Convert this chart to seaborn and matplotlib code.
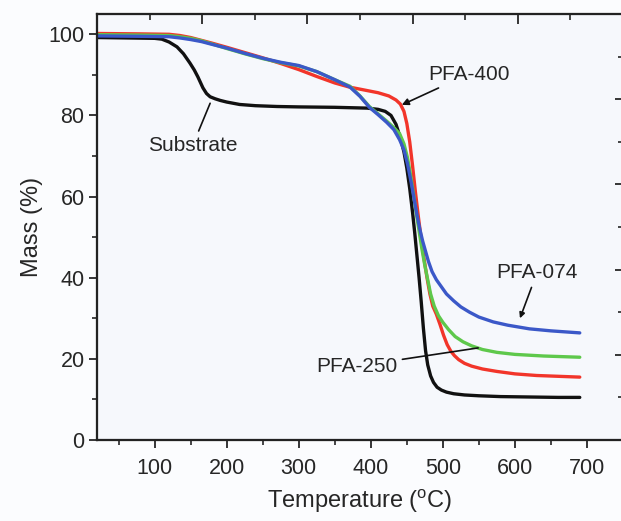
import pandas as pd
import seaborn as sns
import matplotlib.pyplot as plt
from matplotlib.ticker import MultipleLocator

# ==================== Data ====================

SUBSTRATE_T = [20, 60, 100, 110, 120, 131, 140, 149, 155, 160, 167, 172, 177, 184, 191, 200,
               218, 240, 270, 300, 350, 395, 410, 420, 428, 435, 441, 446, 450, 454, 458,
               461, 464, 467, 470, 473, 476, 479, 483, 487, 492, 498, 505, 515, 530, 550,
               580, 620, 660, 690]
SUBSTRATE_M = [99.2, 99.1, 99.0, 98.8, 98.1, 96.9, 95.2, 92.9, 91.2, 89.5, 86.8, 85.4, 84.6,
               84.1, 83.7, 83.3, 82.7, 82.4, 82.2, 82.1, 82.0, 81.8, 81.5, 81.0, 80.0, 77.8,
               74.5, 71.0, 67.0, 62.0, 56.0, 51.0, 45.5, 40.0, 34.0, 27.5, 22.0, 18.5, 15.8,
               14.2, 13.0, 12.3, 11.8, 11.4, 11.1, 10.9, 10.7, 10.6, 10.5, 10.5]

PFA400_T = [20, 80, 120, 135, 150, 165, 180, 200, 225, 250, 275, 300, 325, 350, 370, 390,
            410, 425, 435, 441, 446, 450, 454, 458, 462, 466, 470, 474, 478, 482, 486, 491,
            496, 501, 506, 511, 516, 522, 530, 540, 555, 575, 600, 630, 660, 690]
PFA400_M = [100.2, 100.1, 100.0, 99.7, 99.2, 98.5, 97.8, 96.8, 95.5, 94.2, 92.8, 91.3, 89.6,
            88.0, 87.0, 86.3, 85.6, 84.8, 83.8, 82.8, 81.0, 78.0, 73.5, 67.5, 61.0, 55.0,
            49.5, 44.5, 40.0, 36.0, 33.0, 31.0, 28.5, 25.8, 23.5, 21.9, 20.8, 19.8, 18.9,
            18.2, 17.5, 16.9, 16.3, 15.9, 15.7, 15.5]

PFA250_T = [20, 80, 120, 135, 150, 165, 180, 200, 225, 250, 275, 300, 325, 350, 371, 385,
            398, 410, 422, 432, 440, 446, 451, 455, 459, 463, 467, 471, 475, 479, 483, 488,
            494, 500, 508, 517, 528, 540, 555, 575, 600, 640, 690]
PFA250_M = [99.9, 99.8, 99.7, 99.4, 99.0, 98.4, 97.6, 96.5, 95.2, 94.0, 93.0, 92.2, 90.8,
            88.8, 87.2, 84.8, 82.2, 80.4, 78.6, 77.0, 75.5, 73.0, 69.5, 65.5, 61.0, 56.0,
            51.5, 47.0, 43.0, 39.5, 36.0, 33.0, 30.6, 29.0, 27.2, 25.5, 24.2, 23.2, 22.3,
            21.6, 21.1, 20.7, 20.4]

PFA074_T = [20, 80, 120, 135, 150, 165, 180, 200, 225, 250, 275, 300, 325, 350, 371, 385,
            398, 410, 422, 432, 440, 446, 451, 456, 460, 464, 468, 472, 476, 480, 485, 491,
            497, 505, 515, 525, 537, 550, 570, 590, 620, 650, 690]
PFA074_M = [99.6, 99.5, 99.4, 99.1, 98.7, 98.2, 97.5, 96.6, 95.3, 94.1, 93.1, 92.3, 90.8,
            88.8, 87.0, 84.7, 82.0, 80.2, 78.3, 76.5, 74.0, 71.5, 68.0, 63.5, 59.5, 55.5,
            52.0, 49.0, 46.5, 44.0, 41.5, 39.5, 38.0, 36.0, 34.3, 32.8, 31.5, 30.3, 29.1,
            28.3, 27.4, 26.9, 26.4]

SAMPLES = ['Substrate', 'PFA-400', 'PFA-250', 'PFA-074']
COLORS = {'Substrate': '#111111', 'PFA-400': '#f2352a',
          'PFA-250': '#5ec84b', 'PFA-074': '#3b58c8'}

# ========================================================


def build_frame():
    parts = []
    for name, t, m in [('Substrate', SUBSTRATE_T, SUBSTRATE_M),
                       ('PFA-400', PFA400_T, PFA400_M),
                       ('PFA-250', PFA250_T, PFA250_M),
                       ('PFA-074', PFA074_T, PFA074_M)]:
        parts.append(pd.DataFrame({'Temperature': t, 'Mass': m, 'Sample': name}))
    return pd.concat(parts, ignore_index=True)


def main():
    sns.set_style('ticks')
    plt.rcParams['font.family'] = ['Liberation Sans', 'DejaVu Sans']

    df = build_frame()

    fig = plt.figure(figsize=(6.21, 5.21), dpi=100, facecolor='#fbfcfe')
    ax = fig.add_axes([97 / 621, 81 / 521, 526 / 621, 426 / 521])
    ax.set_facecolor('#f6f8fc')

    sns.lineplot(data=df, x='Temperature', y='Mass', hue='Sample', hue_order=SAMPLES,
                 palette=COLORS, sort=False, estimator=None, legend=False,
                 linewidth=2.4, ax=ax)

    ax.set_xlim(20, 750)
    ax.set_ylim(0, 105)
    ax.set_xticks([100, 200, 300, 400, 500, 600, 700])
    ax.xaxis.set_minor_locator(MultipleLocator(50))
    ax.yaxis.set_major_locator(MultipleLocator(20))
    ax.yaxis.set_minor_locator(MultipleLocator(10))
    ax.set_xlabel('Temperature ($\\mathregular{^{o}}$C)', fontsize=17, labelpad=6)
    ax.set_ylabel('Mass (%)', fontsize=17, labelpad=4)
    ax.tick_params(which='major', direction='out', length=6, width=1.3,
                   labelsize=15.5, pad=3)
    ax.tick_params(axis='x', which='major', pad=7)
    ax.tick_params(which='minor', direction='out', length=3.5, width=1.2)
    for s in ax.spines.values():
        s.set_linewidth(1.5)
        s.set_color('#222222')

    # ticks on top and right without labels
    top = ax.twiny()
    top.set_xlim(0, 5)
    top.xaxis.set_major_locator(MultipleLocator(1))
    top.xaxis.set_minor_locator(MultipleLocator(0.5))
    top.tick_params(which='major', direction='in', length=7, width=1.3, labeltop=False)
    top.tick_params(which='minor', direction='in', length=4, width=1.2)
    right = ax.twinx()
    right.set_ylim(0, 5)
    right.yaxis.set_major_locator(MultipleLocator(1))
    right.yaxis.set_minor_locator(MultipleLocator(0.5))
    right.tick_params(which='major', direction='in', length=6, width=1.3, labelright=False)
    right.tick_params(which='minor', direction='in', length=3.5, width=1.2)
    for t in (top, right):
        for s in t.spines.values():
            s.set_linewidth(1.5)
            s.set_color('#222222')

    # labels with pointer lines
    ax.annotate('Substrate', xy=(177, 83), xytext=(153, 72.7), fontsize=15,
                ha='center', va='center',
                arrowprops=dict(arrowstyle='-', lw=1.2, color='#111111',
                                shrinkA=1, shrinkB=0))
    ax.annotate('PFA-400', xy=(443, 82.6), xytext=(536, 90.2), fontsize=15,
                ha='center', va='center',
                arrowprops=dict(arrowstyle='-|>', lw=1.2, color='#111111',
                                mutation_scale=10, shrinkA=2, shrinkB=0))
    ax.annotate('PFA-074', xy=(607, 30), xytext=(631, 41.4), fontsize=15,
                ha='center', va='center',
                arrowprops=dict(arrowstyle='-|>', lw=1.2, color='#111111',
                                mutation_scale=8, shrinkA=2, shrinkB=0))
    ax.annotate('PFA-250', xy=(549, 22.7), xytext=(381, 18.2), fontsize=15,
                ha='center', va='center',
                arrowprops=dict(arrowstyle='-', lw=1.2, color='#111111',
                                shrinkA=1, shrinkB=0))

    fig.savefig('out.png', dpi=100, facecolor=fig.get_facecolor())
    plt.close(fig)


if __name__ == '__main__':
    main()
